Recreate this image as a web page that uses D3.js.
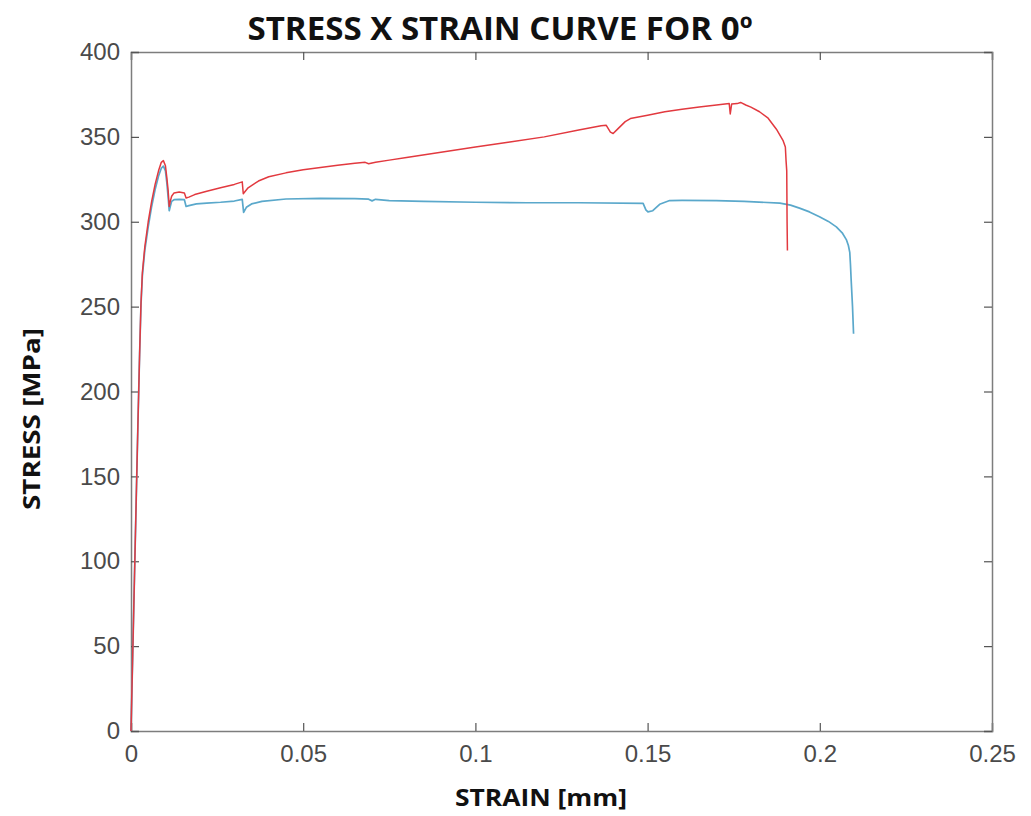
<!DOCTYPE html>
<html>
<head>
<meta charset="utf-8">
<script src="https://cdn.jsdelivr.net/npm/d3@7"></script>
<style>
  html, body { margin: 0; padding: 0; background: #ffffff; }
  svg { display: block; }
</style>
</head>
<body>
<svg id="chart" width="1031" height="816"></svg>
<script>
// Tensile test, 0° specimens: [strain, stress in MPa]
const specimenA = [
  [0,0],[0.0005,45],[0.001,90],[0.0015,135],[0.002,180],[0.0025,222],[0.0029,252],
  [0.0033,270],[0.004,285],[0.005,300],[0.006,312],[0.007,322],[0.008,330],[0.0088,335],
  [0.0094,336],[0.0100,333],[0.0104,326],[0.0108,318],[0.0111,309],[0.0114,312],
  [0.0118,315],[0.0125,317],[0.014,317.5],[0.0155,317],[0.0160,314],[0.0168,314.5],
  [0.0185,316],[0.022,318],[0.026,320],[0.030,322],[0.0323,323.5],[0.0326,316.5],
  [0.034,320],[0.037,324],[0.040,326.5],[0.045,328.8],[0.050,330.6],[0.055,332],
  [0.060,333.3],[0.065,334.4],[0.068,335],[0.069,334.2],[0.071,335],[0.075,336.3],
  [0.080,337.9],[0.090,341],[0.100,344],[0.110,347],[0.120,350],[0.130,354],
  [0.1365,356.5],[0.138,356.8],[0.1392,352.8],[0.140,352],[0.1415,355],[0.1435,359],
  [0.145,360.8],[0.150,362.8],[0.155,364.8],[0.160,366.3],[0.165,367.6],[0.170,368.8],
  [0.1737,369.6],[0.1740,363.5],[0.1744,369.3],[0.176,369.6],[0.177,370.3],[0.1785,368.8],
  [0.180,367.5],[0.1825,364.8],[0.185,361],[0.1874,354.5],[0.1893,348],[0.190,344],
  [0.1902,336],[0.1904,330],[0.1905,300],[0.1906,283]
];

const specimenB = [
  [0,0],[0.0005,45],[0.001,90],[0.0015,135],[0.002,180],[0.0025,222],[0.0029,251],
  [0.0033,268],[0.004,283],[0.005,297],[0.006,309],[0.007,319],[0.008,327],[0.0088,331.5],
  [0.0094,332.8],[0.0100,330],[0.0104,323],[0.0108,314],[0.0111,306.5],[0.0114,309],
  [0.0118,312],[0.0125,313],[0.014,313.2],[0.0155,313],[0.0160,309],[0.0168,309.5],
  [0.019,310.5],[0.022,311],[0.026,311.5],[0.030,312.2],[0.0323,313.2],[0.0327,305.5],
  [0.0335,308.5],[0.035,310.5],[0.038,312],[0.045,313.4],[0.055,313.8],[0.065,313.6],
  [0.069,313.3],[0.0700,312.3],[0.071,313.2],[0.075,312.5],[0.085,312],[0.100,311.5],
  [0.115,311.2],[0.130,311.2],[0.1487,310.8],[0.1495,307],[0.1501,305.8],[0.1515,306.5],
  [0.1535,310.3],[0.1564,312.5],[0.160,312.6],[0.170,312.5],[0.178,312],[0.1884,311],
  [0.1915,309.8],[0.1941,308],[0.197,305.8],[0.1999,303],[0.2025,300.2],[0.2048,297],
  [0.2065,293.5],[0.2077,289.5],[0.2083,286],[0.2087,282],[0.2089,275],[0.2091,266],
  [0.2095,250],[0.2098,234]
];

const xTicks = [0, 0.05, 0.1, 0.15, 0.2, 0.25];
const yTicks = [0, 50, 100, 150, 200, 250, 300, 350, 400];
const xTickLabels = ["0", "0.05", "0.1", "0.15", "0.2", "0.25"];

const titleText = "STRESS X STRAIN CURVE FOR 0º";
const xLabelText = "STRAIN [mm]";
const yLabelText = "STRESS [MPa]";

const margin = { left: 131, right: 1031 - 992, top: 52, bottom: 816 - 731 };
const W = 1031, H = 816;
const svg = d3.select("#chart");

const x = d3.scaleLinear().domain([0, 0.25]).range([margin.left, W - margin.right]);
const y = d3.scaleLinear().domain([0, 400]).range([H - margin.bottom, margin.top]);

const frameColor = "#7d7d7d";
const tickTextColor = "#4a4a4a";
const tickFont = "'Liberation Sans', Arial, sans-serif";
const labelFont = "'Open Sans', 'Liberation Sans', sans-serif";

// Axes (MATLAB-style box with inward ticks on all four sides)
const xAxisB = d3.axisBottom(x).tickValues(xTicks).tickSize(-8).tickPadding(14)
  .tickFormat((d, i) => xTickLabels[i]);
const xAxisT = d3.axisTop(x).tickValues(xTicks).tickSize(-8).tickFormat("");
const yAxisL = d3.axisLeft(y).tickValues(yTicks).tickSize(-8).tickPadding(11);
const yAxisR = d3.axisRight(y).tickValues(yTicks).tickSize(-8).tickFormat("");

function styleAxis(g) {
  g.select(".domain").attr("stroke", frameColor).attr("stroke-width", 1.5);
  g.selectAll(".tick line").attr("stroke", "#555").attr("stroke-width", 1.2);
  g.selectAll(".tick text")
    .attr("fill", tickTextColor)
    .style("font-family", tickFont)
    .style("font-size", "24px");
}

svg.append("g").attr("transform", `translate(0,${y(0)})`).call(xAxisB).call(styleAxis);
svg.append("g").attr("transform", `translate(0,${y(400)})`).call(xAxisT).call(styleAxis);
svg.append("g").attr("transform", `translate(${x(0)},0)`).call(yAxisL).call(styleAxis);
svg.append("g").attr("transform", `translate(${x(0.25)},0)`).call(yAxisR).call(styleAxis);

// Curves
const line = d3.line().x(d => x(d[0])).y(d => y(d[1])).curve(d3.curveLinear);

svg.append("path")
  .datum(specimenB)
  .attr("fill", "none")
  .attr("stroke", "#5aa8cb")
  .attr("stroke-width", 1.7)
  .attr("stroke-linejoin", "round")
  .attr("d", line);

svg.append("path")
  .datum(specimenA)
  .attr("fill", "none")
  .attr("stroke", "#e2393f")
  .attr("stroke-width", 1.5)
  .attr("stroke-linejoin", "round")
  .attr("d", line);

// Title and axis labels
svg.append("text")
  .attr("x", 500).attr("y", 40)
  .attr("text-anchor", "middle")
  .attr("textLength", 505).attr("lengthAdjust", "spacingAndGlyphs")
  .style("font-family", labelFont).style("font-weight", "700").style("font-size", "32px")
  .attr("fill", "#111")
  .text(titleText);

svg.append("text")
  .attr("x", 541).attr("y", 806)
  .attr("text-anchor", "middle")
  .attr("textLength", 172).attr("lengthAdjust", "spacingAndGlyphs")
  .style("font-family", labelFont).style("font-weight", "700").style("font-size", "23px")
  .attr("fill", "#111")
  .text(xLabelText);

svg.append("text")
  .attr("transform", "translate(40,419) rotate(-90)")
  .attr("text-anchor", "middle")
  .attr("textLength", 182).attr("lengthAdjust", "spacingAndGlyphs")
  .style("font-family", labelFont).style("font-weight", "700").style("font-size", "24px")
  .attr("fill", "#111")
  .text(yLabelText);
</script>
</body>
</html>
